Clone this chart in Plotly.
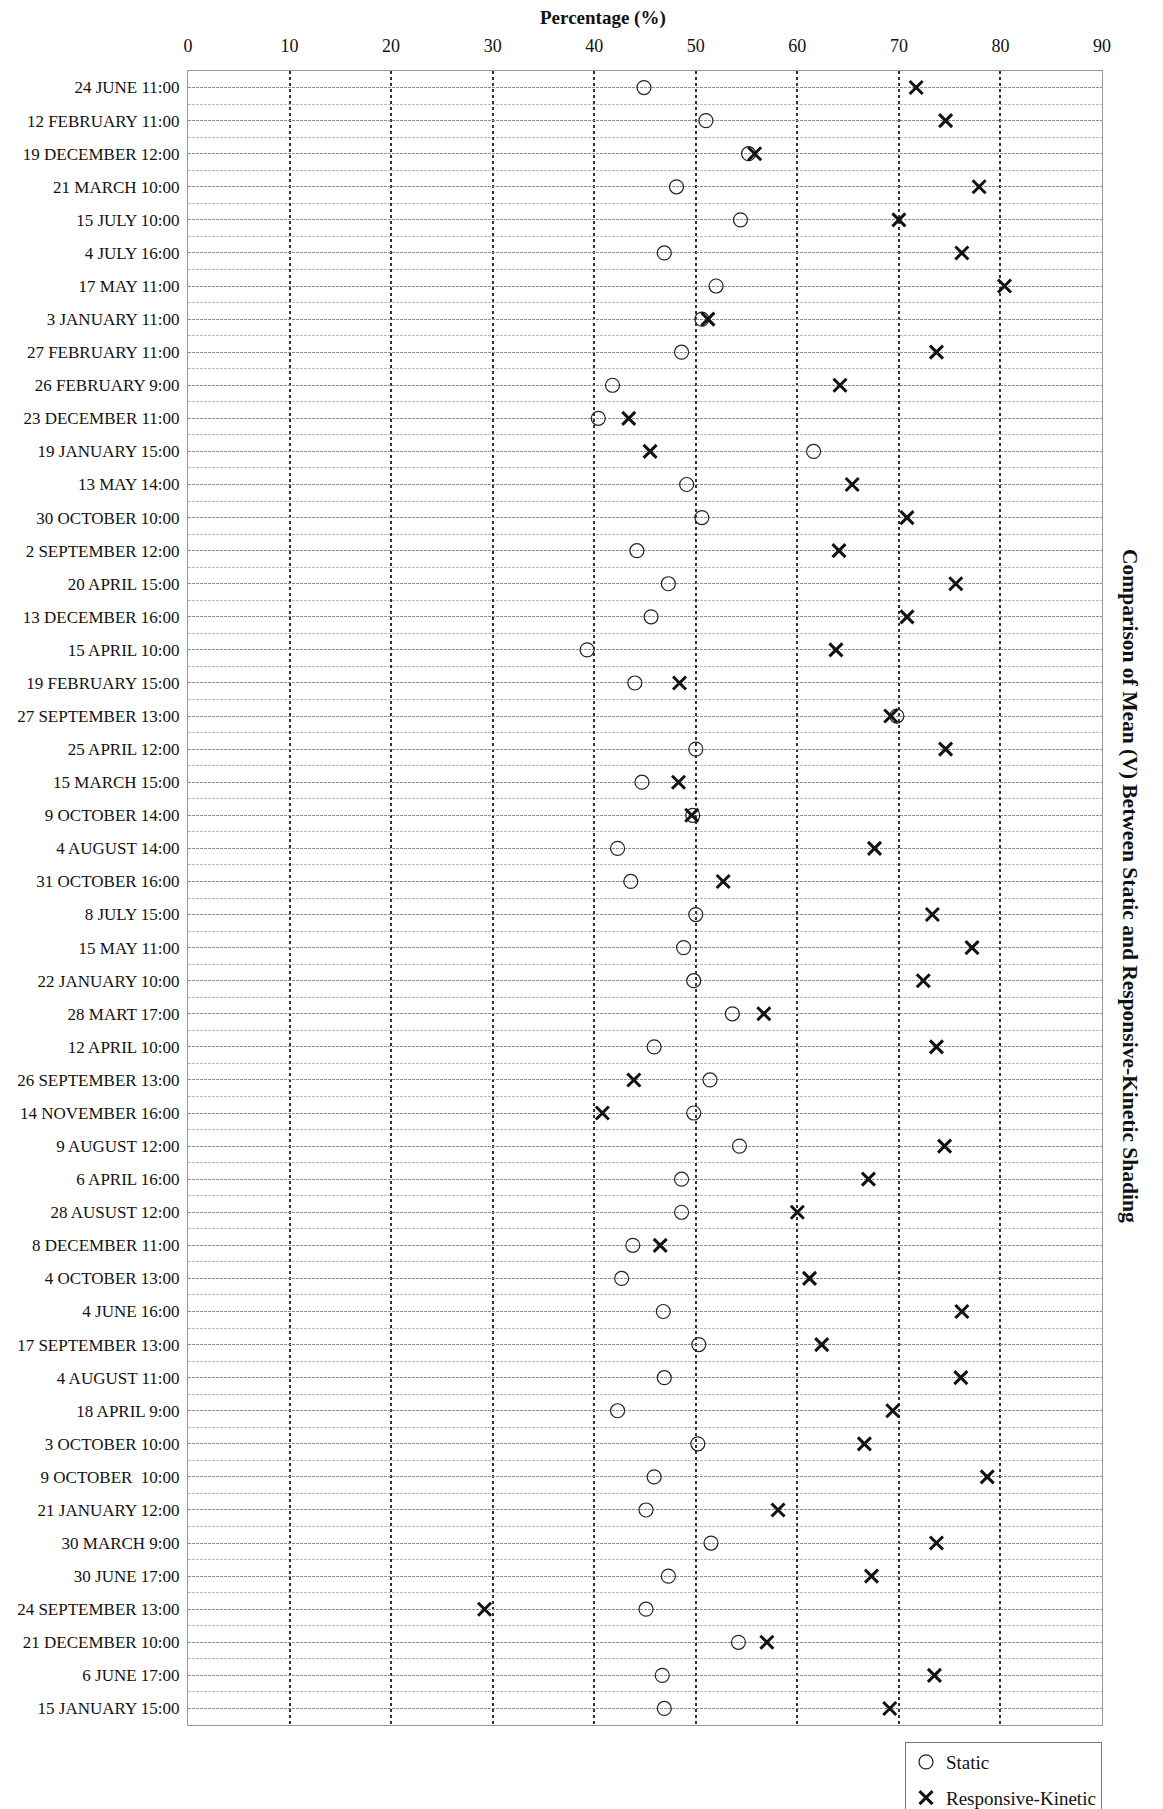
import plotly.graph_objects as go

categories = [
    "24 JUNE 11:00", "12 FEBRUARY 11:00", "19 DECEMBER 12:00", "21 MARCH 10:00",
    "15 JULY 10:00", "4 JULY 16:00", "17 MAY 11:00", "3 JANUARY 11:00",
    "27 FEBRUARY 11:00", "26 FEBRUARY 9:00", "23 DECEMBER 11:00", "19 JANUARY 15:00",
    "13 MAY 14:00", "30 OCTOBER 10:00", "2 SEPTEMBER 12:00", "20 APRIL 15:00",
    "13 DECEMBER 16:00", "15 APRIL 10:00", "19 FEBRUARY 15:00", "27 SEPTEMBER 13:00",
    "25 APRIL 12:00", "15 MARCH 15:00", "9 OCTOBER 14:00", "4 AUGUST 14:00",
    "31 OCTOBER 16:00", "8 JULY 15:00", "15 MAY 11:00", "22 JANUARY 10:00",
    "28 MART 17:00", "12 APRIL 10:00", "26 SEPTEMBER 13:00", "14 NOVEMBER 16:00",
    "9 AUGUST 12:00", "6 APRIL 16:00", "28 AUSUST 12:00", "8 DECEMBER 11:00",
    "4 OCTOBER 13:00", "4 JUNE 16:00", "17 SEPTEMBER 13:00", "4 AUGUST 11:00",
    "18 APRIL 9:00", "3 OCTOBER 10:00", "9 OCTOBER  10:00", "21 JANUARY 12:00",
    "30 MARCH 9:00", "30 JUNE 17:00", "24 SEPTEMBER 13:00", "21 DECEMBER 10:00",
    "6 JUNE 17:00", "15 JANUARY 15:00",
]

static = [
    44.9, 51.0, 55.2, 48.1, 54.4, 46.9, 52.0, 50.6,
    48.6, 41.8, 40.4, 61.6, 49.1, 50.6, 44.2, 47.3,
    45.6, 39.3, 44.0, 69.8, 50.0, 44.7, 49.7, 42.3,
    43.6, 50.0, 48.8, 49.8, 53.6, 45.9, 51.4, 49.8,
    54.3, 48.6, 48.6, 43.8, 42.7, 46.8, 50.3, 46.9,
    42.3, 50.2, 45.9, 45.1, 51.5, 47.3, 45.1, 54.2,
    46.7, 46.9,
]

responsive_kinetic = [
    71.7, 74.6, 55.8, 77.9, 70.0, 76.2, 80.4, 51.2,
    73.7, 64.2, 43.4, 45.5, 65.4, 70.8, 64.1, 75.6,
    70.8, 63.8, 48.4, 69.2, 74.6, 48.3, 49.6, 67.6,
    52.7, 73.3, 77.2, 72.4, 56.7, 73.7, 43.9, 40.8,
    74.5, 67.0, 60.0, 46.5, 61.2, 76.2, 62.4, 76.1,
    69.4, 66.6, 78.7, 58.1, 73.7, 67.3, 29.2, 57.0,
    73.5, 69.1,
]

x_ticks = [0, 10, 20, 30, 40, 50, 60, 70, 80, 90]

FONT = "Liberation Serif"
pos = list(range(len(categories)))

fig = go.Figure()
fig.add_trace(go.Scatter(
    x=static, y=pos, mode="markers", name="Static", legendgroup="s",
    marker=dict(symbol="circle-open", size=14, color="#222",
                line=dict(width=1.2, color="#222")),
))
fig.add_trace(go.Scatter(
    x=responsive_kinetic, y=pos, mode="markers", name="Responsive-Kinetic",
    legendgroup="rk",
    marker=dict(symbol="x-thin", size=13, color="#111",
                line=dict(width=3, color="#111")),
))

# page body has an 8px default margin; figure sized/margined to compensate
fig.update_layout(
    width=1155, height=1801,
    margin=dict(l=180, r=61, t=63, b=84, autoexpand=False),
    paper_bgcolor="white", plot_bgcolor="white",
    font=dict(family=FONT, size=17, color="#111"),
    showlegend=True,
    legend=dict(
        x=1.0, xanchor="right", y=-0.0103, yanchor="top",
        bordercolor="#777", borderwidth=1, bgcolor="white",
        font=dict(family=FONT, size=19, color="#111"),
        itemwidth=30, traceorder="grouped", tracegroupgap=8,
    ),
    xaxis=dict(
        side="top", range=[0, 90], tickvals=x_ticks,
        ticktext=[str(v) for v in x_ticks],
        tickfont=dict(family=FONT, size=18, color="#111"),
        showgrid=True, gridcolor="#333", griddash="dot", gridwidth=1.5,
        zeroline=False, showline=True, linecolor="#999", linewidth=1,
        mirror=True, ticks="", ticklabelstandoff=11, automargin=False,
    ),
    yaxis=dict(
        range=[len(categories) - 0.5, -0.5],
        tickvals=pos, ticktext=categories,
        tickfont=dict(family=FONT, size=17, color="#111"),
        showgrid=True, gridcolor="#8f8f8f", griddash="3px,1px", gridwidth=1,
        minor=dict(tick0=0.5, dtick=1, showgrid=True, gridcolor="#bdbdbd",
                   griddash="3px,1px", gridwidth=1, ticks=""),
        zeroline=False, showline=True, linecolor="#999", linewidth=1,
        mirror=True, ticks="", ticklabelstandoff=4, automargin=False,
    ),
    annotations=[
        dict(text="<b>Percentage (%)</b>", x=0.454, y=1, xref="paper", yref="paper",
             yshift=53, xanchor="center", yanchor="middle", showarrow=False,
             font=dict(family=FONT, size=19, color="#111")),
        dict(text="<b>Comparison of Mean (V) Between Static and Responsive-Kinetic Shading</b>",
             x=1.03, y=0.507, xref="paper", yref="paper", textangle=90,
             xanchor="center", yanchor="middle", showarrow=False,
             font=dict(family=FONT, size=21.5, color="#111")),
    ],
)

fig.write_html("out.html")
